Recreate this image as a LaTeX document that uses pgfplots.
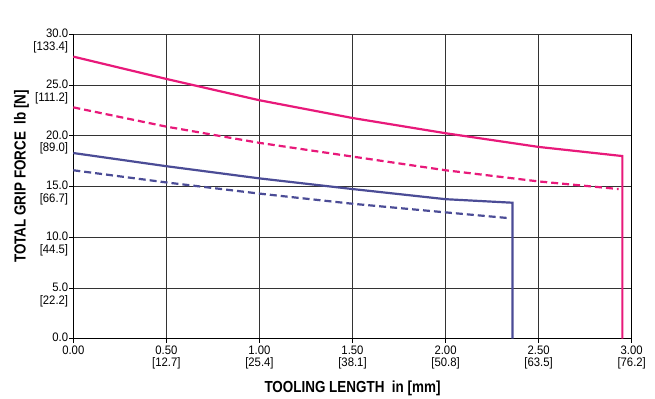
\documentclass[border=0pt]{standalone}
\usepackage{fontspec}
\setmainfont[FakeStretch=0.92]{Liberation Sans}
\newfontfamily\labelfont[FakeStretch=0.84]{Liberation Sans}
\usepackage{pgfplots}
\pgfplotsset{compat=1.18}
\definecolor{pinkc}{HTML}{E8197A}
\definecolor{bluec}{HTML}{4B4C96}
\newcommand{\nl}{\\\relax}
\begin{document}
\begin{tikzpicture}
\begin{axis}[name=ax,
  scale only axis, width=558.4bp, height=304.4bp,
  xmin=0, xmax=3, ymin=0, ymax=30,
  axis x line*=bottom, axis y line*=left,
  axis line style={line width=1.4bp, black, -},
  xtick={0,0.5,1,1.5,2,2.5,3},
  xticklabels={0.00,{0.50\nl[12.7]},{1.00\nl[25.4]},{1.50\nl[38.1]},{2.00\nl[50.8]},{2.50\nl[63.5]},{3.00\nl[76.2]}},
  ytick={0,5,10,15,20,25,30},
  yticklabels={0.0,{5.0\nl[22.2]},{10.0\nl[44.5]},{15.0\nl[66.7]},{20.0\nl[89.0]},{25.0\nl[111.2]},{30.0\nl[133.4]}},
  xticklabel style={align=center, inner sep=1bp, yshift=-2.5bp, font=\fontsize{12.3bp}{11.5bp}\selectfont},
  yticklabel style={align=right, anchor=north east, inner sep=1bp, yshift=6.5bp, font=\fontsize{12.3bp}{12.8bp}\selectfont},
  tick align=outside, major tick length=4bp,
  tick style={black, line width=0.8bp},
  grid=major,
  major grid style={black!80, line width=0.9bp},
  xlabel={\labelfont\bfseries TOOLING LENGTH\ \ in [mm]},
  ylabel={\labelfont\bfseries TOTAL GRIP FORCE\ \ lb [N]},
  label style={font=\fontsize{16bp}{17bp}\selectfont},
  xlabel style={yshift=-7bp},
  ylabel style={yshift=0bp, xshift=10bp},
  clip=false,
]
\addplot[pinkc, line width=2.2bp] coordinates {(0,27.8) (0.5,25.6) (1.0,23.5) (1.5,21.75) (2.0,20.25) (2.5,18.9) (2.95,18.0) (2.95,0)};
\addplot[pinkc, line width=2.2bp, dash pattern=on 7bp off 4bp] coordinates {(0,22.8) (0.5,20.9) (1.0,19.3) (1.5,17.95) (2.0,16.6) (2.5,15.5) (2.93,14.75)};
\addplot[bluec, line width=2.2bp] coordinates {(0,18.3) (0.5,17.0) (1.0,15.8) (1.5,14.75) (2.0,13.75) (2.36,13.4) (2.36,0)};
\addplot[bluec, line width=2.2bp, dash pattern=on 7bp off 4bp] coordinates {(0,16.6) (0.5,15.4) (1.0,14.3) (1.5,13.3) (2.0,12.45) (2.33,11.9)};
\draw[black, line width=1.4bp] (rel axis cs:1,0) -- (rel axis cs:1,1);
\end{axis}
\pgfresetboundingbox
\path (ax.south west) ++(-73.3bp,-60.3bp) rectangle ++(655bp,399bp);
\end{tikzpicture}
\end{document}
